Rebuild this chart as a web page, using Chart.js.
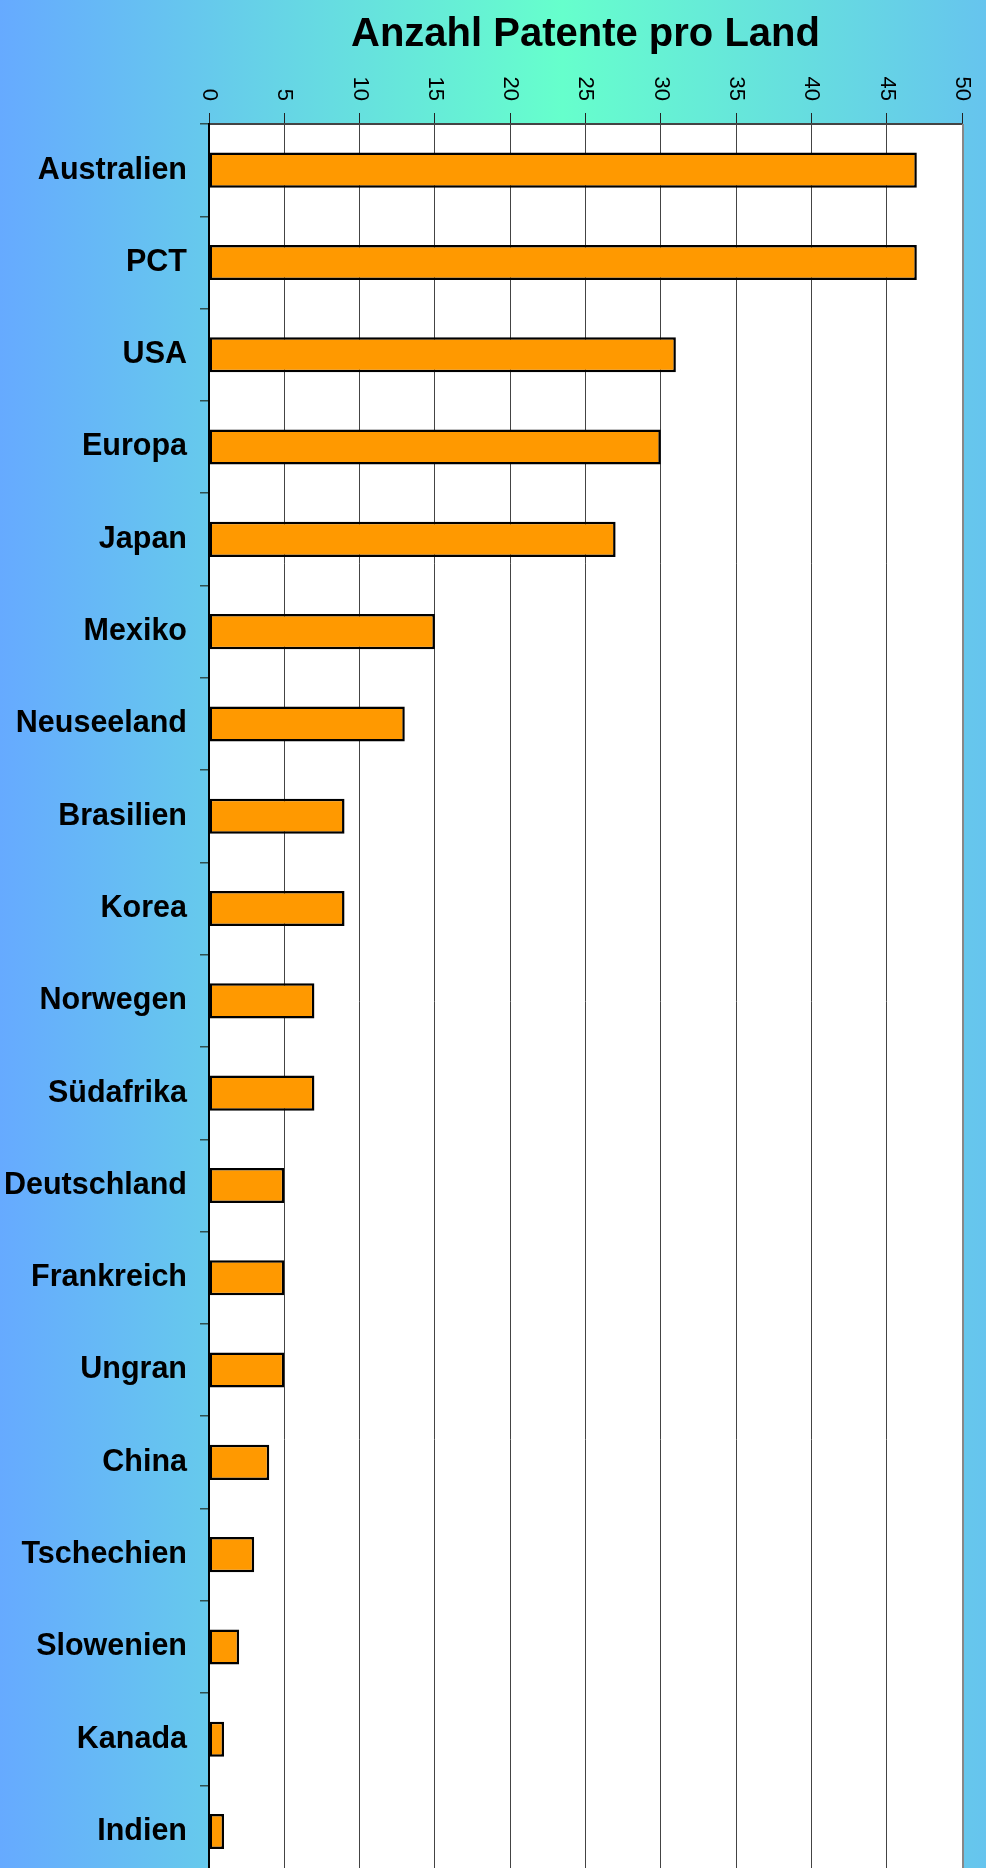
<!DOCTYPE html>
<html>
<head>
<meta charset="utf-8">
<script src="https://cdn.jsdelivr.net/npm/chart.js@4.4.1/dist/chart.umd.min.js"></script>
<style>
  html, body { margin: 0; padding: 0; overflow: hidden; width: 986px; height: 1868px; }
  body { background: linear-gradient(to right, #66aaff 0%, #66ffcc 57%, #66c4ee 100%); }
  canvas { display: block; }
</style>
</head>
<body>
<canvas id="c" width="986" height="1909" style="width:986px;height:1909px"></canvas>
<script>
const titleText = 'Anzahl Patente pro Land';
const categories = ['Australien', 'PCT', 'USA', 'Europa', 'Japan', 'Mexiko', 'Neuseeland', 'Brasilien', 'Korea', 'Norwegen', 'Südafrika', 'Deutschland', 'Frankreich', 'Ungran', 'China', 'Tschechien', 'Slowenien', 'Kanada', 'Indien'];
const patentCounts = [47, 47, 31, 30, 27, 15, 13, 9, 9, 7, 7, 5, 5, 5, 4, 3, 2, 1, 1];
const xTicks = [0, 5, 10, 15, 20, 25, 30, 35, 40, 45, 50];

const FONT = '"Liberation Sans", Arial, Helvetica, sans-serif';

const decor = {
  id: 'decor',
  beforeDraw(chart) {
    const a = chart.chartArea, ctx = chart.ctx;
    ctx.save();
    ctx.fillStyle = '#ffffff';
    ctx.fillRect(a.left, a.top, a.right - a.left, a.bottom - a.top);
    ctx.restore();
  },
  afterDraw(chart) {
    const a = chart.chartArea, ctx = chart.ctx;
    const xs = chart.scales.x;
    ctx.save();
    // right border
    ctx.fillStyle = '#888888';
    ctx.fillRect(a.right, a.top, 2, a.bottom - a.top);
    // rotated tick labels
    ctx.fillStyle = '#000000';
    ctx.font = '22px ' + FONT;
    ctx.textAlign = 'right';
    ctx.textBaseline = 'middle';
    xs.ticks.forEach(t => {
      const x = xs.getPixelForValue(t.value);
      ctx.save();
      ctx.translate(x, 101);
      ctx.rotate(Math.PI / 2);
      ctx.fillText(String(t.value), 0, 0);
      ctx.restore();
    });
    // title
    ctx.font = 'bold 40px ' + FONT;
    ctx.textAlign = 'center';
    ctx.textBaseline = 'alphabetic';
    ctx.fillText(titleText, (a.left + a.right) / 2, 46);
    ctx.restore();
  }
};

new Chart(document.getElementById('c'), {
  type: 'bar',
  data: {
    labels: categories,
    datasets: [{
      data: patentCounts,
      backgroundColor: '#ff9900',
      borderColor: '#000000',
      borderWidth: 2.5,
      borderSkipped: false,
      barPercentage: 0.38,
      categoryPercentage: 1.0
    }]
  },
  options: {
    indexAxis: 'y',
    responsive: false,
    animation: false,
    devicePixelRatio: 1,
    layout: { padding: { top: 0, left: 0, right: 24, bottom: 0 } },
    plugins: { legend: { display: false }, title: { display: false }, tooltip: { enabled: false } },
    scales: {
      x: {
        position: 'top',
        min: 0, max: 50,
        afterBuildTicks: (scale) => { scale.ticks = xTicks.map(v => ({ value: v })); },
        afterFit: (scale) => { scale.height = 124; },
        ticks: { display: false },
        grid: { color: '#444444', lineWidth: 1, drawTicks: true, tickLength: 11, tickColor: '#222222' },
        border: { display: true, color: '#444444', width: 2 }
      },
      y: {
        afterFit: (scale) => { scale.width = 209; },
        ticks: {
          autoSkip: false,
          color: '#000000',
          padding: 13,
          font: { family: FONT, size: 30.5, weight: 'bold' }
        },
        grid: { offset: true, drawOnChartArea: false, drawTicks: true, tickLength: 9, tickColor: '#2f4f4f', lineWidth: 1.5 },
        border: { display: true, color: '#000000', width: 2 }
      }
    }
  },
  plugins: [decor]
});
</script>
</body>
</html>
